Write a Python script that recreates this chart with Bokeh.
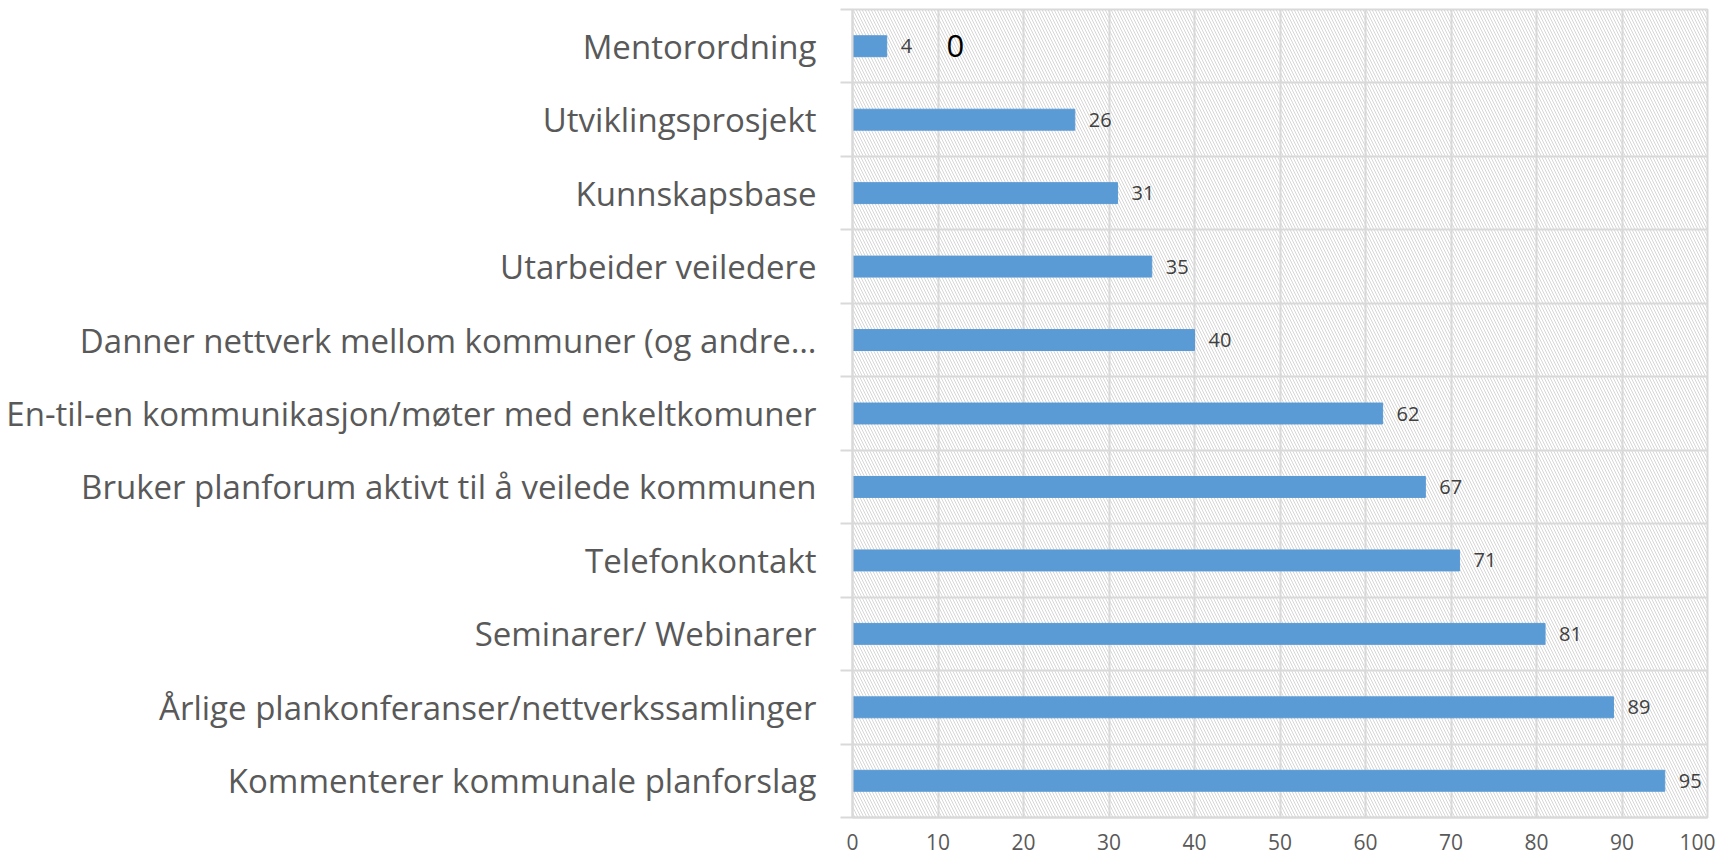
from bokeh.plotting import figure
from bokeh.models import FixedTicker, BoxAnnotation, Range1d, ColumnDataSource, Label
from bokeh.core.properties import value
from bokeh.embed import file_html
from bokeh.resources import INLINE

# bottom to top
categories = [
    "Kommenterer kommunale planforslag",
    "Årlige plankonferanser/nettverkssamlinger",
    "Seminarer/ Webinarer",
    "Telefonkontakt",
    "Bruker planforum aktivt til å veilede kommunen",
    "En-til-en kommunikasjon/møter med enkeltkomuner",
    "Danner nettverk mellom kommuner (og andre…",
    "Utarbeider veiledere",
    "Kunnskapsbase",
    "Utviklingsprosjekt",
    "Mentorordning",
]
values = [95, 89, 81, 71, 67, 62, 40, 35, 31, 26, 4]
x_ticks = list(range(0, 101, 10))
extra_text = "0"
extra_x = 11

FONT = "Open Sans"
GRID = "#d9d9d9"

n = len(categories)
centers = [i + 0.5 for i in range(n)]
bounds = list(range(n + 1))

src = ColumnDataSource(dict(y=centers, v=values, lbl=[str(v) for v in values]))

p = figure(width=1715, height=859, x_range=Range1d(0, 100), y_range=Range1d(0, n),
           output_backend="svg", toolbar_location=None,
           min_border_left=852, min_border_right=8, min_border_top=9, min_border_bottom=42)
p.background_fill_color = "white"
p.border_fill_color = "white"
p.outline_line_color = GRID
p.outline_line_width = 2

p.add_layout(BoxAnnotation(fill_alpha=0, line_color=None, hatch_pattern="\\",
                           hatch_color="#d6d6d6", hatch_scale=6, hatch_weight=1,
                           level="image"))

p.hbar(y="y", left=0, right="v", height=0.285, color="#5b9bd5", source=src)
p.text(x="v", y="y", text="lbl", source=src, x_offset=14, text_baseline="middle",
       text_align="left", text_font=value(FONT), text_font_size="20px", text_color="#404040")
p.add_layout(Label(x=extra_x, y=centers[-1], text=extra_text, text_baseline="middle",
                   text_align="left", text_font=FONT, text_font_size="31px", text_color="#000000"))

p.xgrid.ticker = FixedTicker(ticks=x_ticks)
p.xgrid.grid_line_color = GRID
p.xgrid.grid_line_width = 2
p.ygrid.ticker = FixedTicker(ticks=bounds)
p.ygrid.grid_line_color = GRID
p.ygrid.grid_line_width = 2

xa = p.xaxis[0]
xa.ticker = FixedTicker(ticks=x_ticks)
xa.axis_line_color = GRID
xa.axis_line_width = 2
xa.major_tick_line_color = None
xa.major_tick_out = 0
xa.major_tick_in = 0
xa.minor_tick_line_color = None
xa.minor_tick_out = 0
xa.major_label_text_font = FONT
xa.major_label_text_font_size = "21px"
xa.major_label_text_color = "#595959"
xa.major_label_standoff = 16

ya = p.yaxis[0]
ya.ticker = FixedTicker(ticks=centers, minor_ticks=bounds)
ya.major_label_overrides = {c: lab for c, lab in zip(centers, categories)}
ya.axis_line_color = GRID
ya.axis_line_width = 2
ya.major_tick_line_color = None
ya.major_tick_out = 0
ya.major_tick_in = 0
ya.minor_tick_line_color = GRID
ya.minor_tick_line_width = 2
ya.minor_tick_out = 12
ya.minor_tick_in = 0
ya.major_label_text_font = FONT
ya.major_label_text_font_size = "33px"
ya.major_label_text_color = "#595959"
ya.major_label_standoff = 24

open("out.html", "w").write(file_html(p, INLINE))
